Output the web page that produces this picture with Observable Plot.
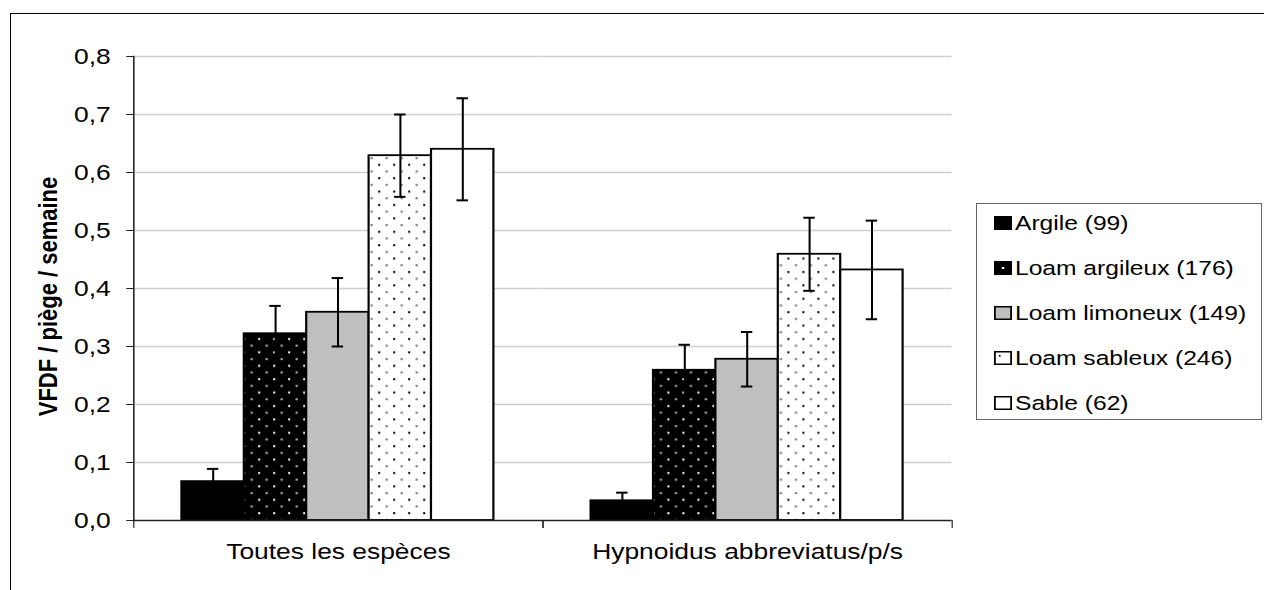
<!DOCTYPE html>
<html>
<head>
<meta charset="utf-8">
<script src="https://cdn.jsdelivr.net/npm/d3@7"></script>
<script src="https://cdn.jsdelivr.net/npm/@observablehq/plot@0.6"></script>
<style>
  html, body { margin: 0; padding: 0; background: #fff; overflow: hidden; width: 1264px; height: 590px; }
  #wrap { position: relative; width: 1264px; height: 590px; overflow: hidden; }
  #border { position: absolute; left: 10px; top: 13px; width: 1400px; height: 800px; border-left: 1.5px solid #000; border-top: 1.5px solid #000; }
  #chart { position: absolute; left: 0; top: 0; width: 1264px; height: 590px; }
  #legend { position: absolute; left: 976px; top: 203px; width: 284px; height: 215px; border: 1.5px solid #666; background: #fff;
            font-family: "Liberation Sans", Arial, sans-serif; font-size: 20.5px; color: #000; }
  #legend .rows { position: absolute; left: 17px; top: -4px; transform: scaleX(1.2); transform-origin: 0 0; }
  #legend .row { height: 45px; display: flex; align-items: center; white-space: nowrap; }
  #legend .row svg { margin-right: 2.5px; flex: none; }
</style>
</head>
<body>
<div id="wrap">
  <div id="border"></div>
  <div id="chart"></div>
  <div id="legend"><div class="rows"></div></div>
</div>
<script>
// ---- data ----
const categories = ["Toutes les espèces", "Hypnoidus abbreviatus/p/s"];
const soils = ["Argile (99)", "Loam argileux (176)", "Loam limoneux (149)", "Loam sableux (246)", "Sable (62)"];
const meanToutes = [0.067, 0.322, 0.359, 0.629, 0.640];
const errToutes  = [0.022, 0.048, 0.059, 0.071, 0.088];
const meanHypno  = [0.034, 0.259, 0.278, 0.459, 0.432];
const errHypno   = [0.014, 0.044, 0.047, 0.063, 0.085];
const yTicks = [0, 0.1, 0.2, 0.3, 0.4, 0.5, 0.6, 0.7, 0.8];
const yTitle = "VFDF / piège / semaine";

// ---- table ----
const means = [meanToutes, meanHypno];
const errs = [errToutes, errHypno];
const rows = [];
categories.forEach((c, ci) => soils.forEach((s, si) => {
  rows.push({category: c, soil: s, mean: means[ci][si], err: errs[ci][si]});
}));

// ---- layout / styles ----
// the original chart is drawn with a horizontal stretch; reproduce it by
// rendering in a narrower coordinate space and stretching the SVG.
const W = 1264, H = 590, S = 1.2;
const soilFills = ["#000000", "url(#dotsOnBlack)", "#bfbfbf", "url(#dotsOnWhite)", "#ffffff"];
const fillOf = new Map(soils.map((s, i) => [s, soilFills[i]]));
const tickShape = {draw(context, l) { context.moveTo(0, 0); context.lineTo(0, -l); }};
const axisColor = "#222";
const capInset = (63 / S - 12 / S) / 2;

const svg = Plot.plot({
  width: W / S,
  height: H,
  marginLeft: 133 / S,
  marginRight: 312 / S,
  marginTop: 56,
  marginBottom: 70,
  style: {fontFamily: "'Liberation Sans', Arial, sans-serif", fontSize: "22px", color: "#000", background: "transparent", overflow: "visible"},
  fx: {domain: categories, padding: 0, label: null},
  x: {domain: soils, paddingInner: 0, paddingOuter: 0.75, axis: null},
  y: {domain: [0, 0.8], axis: null},
  color: {type: "identity"},
  marks: [
    Plot.gridY(yTicks.filter(t => t > 0), {stroke: "#cfcfcf", strokeOpacity: 1, strokeWidth: 1.3}),
    Plot.barY(rows, {fx: "category", x: "soil", y: "mean", fill: d => fillOf.get(d.soil), stroke: "#000", strokeWidth: 1.8}),
    Plot.ruleX(rows, {fx: "category", x: "soil", y1: d => d.mean - d.err, y2: d => d.mean + d.err, stroke: "#000", strokeWidth: 1.7}),
    Plot.tickY(rows, {fx: "category", x: "soil", y: d => d.mean - d.err, insetLeft: capInset, insetRight: capInset, stroke: "#000", strokeWidth: 2}),
    Plot.tickY(rows, {fx: "category", x: "soil", y: d => d.mean + d.err, insetLeft: capInset, insetRight: capInset, stroke: "#000", strokeWidth: 2}),
    Plot.ruleY([0], {stroke: axisColor, strokeWidth: 1.5}),
    Plot.frame({anchor: "left", facetAnchor: "left", stroke: axisColor, strokeWidth: 1.3}),
    Plot.vector([0], {frameAnchor: "bottom-left", length: 7, rotate: 180, anchor: "start", shape: tickShape, stroke: axisColor, strokeWidth: 1}),
    Plot.vector([0], {frameAnchor: "bottom-right", length: 7, rotate: 180, anchor: "start", shape: tickShape, stroke: axisColor, strokeWidth: 1}),
    Plot.axisY(yTicks, {
      tickSize: 7 / S, tickPadding: 16 / S, stroke: axisColor,
      tickFormat: d => d.toFixed(1).replace(".", ","),
      label: null
    }),
    Plot.text([yTitle], {
      text: d => d, frameAnchor: "left", facetAnchor: "left", rotate: -90,
      textAnchor: "middle", lineAnchor: "middle",
      dx: 48 / S - 133 / S, dy: 8, fontWeight: "bold", fontSize: 22, fill: "#000"
    }),
    Plot.axisFx({anchor: "bottom", tickSize: 0, tickPadding: 23, label: null})
  ]
});

// stretch horizontally
svg.setAttribute("width", W);
svg.setAttribute("height", H);
svg.setAttribute("viewBox", `0 0 ${W / S} ${H}`);
svg.setAttribute("preserveAspectRatio", "none");
svg.style.maxWidth = "none";

// patterns
const defs = d3.select(svg).insert("defs", ":first-child");
function dotPattern(id, bg, c1, c2) {
  const pw = 15 / S, ph = 13.4, d = 2 / S;
  const p = defs.append("pattern").attr("id", id).attr("patternUnits", "userSpaceOnUse")
    .attr("width", pw).attr("height", ph);
  p.append("rect").attr("width", pw).attr("height", ph).attr("fill", bg);
  p.append("rect").attr("x", 3 / S).attr("y", 3).attr("width", d).attr("height", 2).attr("fill", c1);
  p.append("rect").attr("x", 10.5 / S).attr("y", 9.7).attr("width", d).attr("height", 2).attr("fill", c2);
}
dotPattern("dotsOnBlack", "#000", "#fff", "#c8c8c8");
dotPattern("dotsOnWhite", "#fff", "#000", "#666");

document.getElementById("chart").appendChild(svg);

// legend
const swatchSvg = [
  '<rect x="0.75" y="0.75" width="13.5" height="12.5" fill="#000" stroke="#000" stroke-width="1.5"/>',
  '<rect x="0.75" y="0.75" width="13.5" height="12.5" fill="#000" stroke="#000" stroke-width="1.5"/><rect x="6.5" y="6" width="2" height="2" fill="#fff"/>',
  '<rect x="0.75" y="0.75" width="13.5" height="12.5" fill="#bfbfbf" stroke="#000" stroke-width="1.5"/>',
  '<rect x="0.75" y="0.75" width="13.5" height="12.5" fill="#fff" stroke="#000" stroke-width="1.5"/><rect x="4" y="4" width="1.5" height="1.5" fill="#000"/>',
  '<rect x="0.75" y="0.75" width="13.5" height="12.5" fill="#fff" stroke="#000" stroke-width="1.5"/>'
];
const legendRows = d3.select("#legend .rows");
soils.forEach((s, i) => {
  const r = legendRows.append("div").attr("class", "row");
  r.append("svg").attr("width", 15).attr("height", 14).html(swatchSvg[i]);
  r.append("span").text(s);
});
</script>
</body>
</html>
